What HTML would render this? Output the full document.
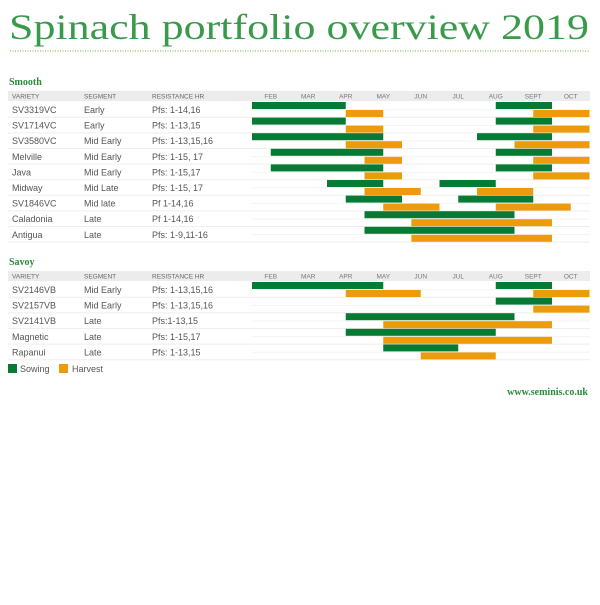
<!DOCTYPE html>
<html><head><style>body{margin:0;background:#fff}</style></head><body>
<svg width="600" height="600" xmlns="http://www.w3.org/2000/svg" font-family="Liberation Sans, sans-serif">
<text x="9" y="39" font-family="Liberation Serif, serif" font-size="36" fill="#3a9a4c" textLength="580" lengthAdjust="spacingAndGlyphs">Spinach portfolio overview 2019</text>
<line x1="10" y1="51" x2="590" y2="51" stroke="#8cc04a" stroke-width="1.2" stroke-dasharray="1,1.5"/>
<g id="c"></g>
</svg>
<script>
const g=document.getElementById('c');const NS='http://www.w3.org/2000/svg';
function el(t,a,txt){const e=document.createElementNS(NS,t);for(const k in a)e.setAttribute(k,a[k]);if(txt)e.textContent=txt;g.appendChild(e);return e;}
const X0=252,U=18.75,M=['FEB','MAR','APR','MAY','JUN','JUL','AUG','SEPT','OCT'];
function section(title,ty,rows){
 el('text',{x:9,y:ty,'font-family':'Liberation Serif, serif','font-weight':'bold','font-size':10,fill:'#2b8c3c'},title);
 const hy=ty+6;
 el('rect',{x:8,y:hy,width:582,height:10,fill:'#ececec'});
 el('text',{x:12,y:hy+7.5,'font-size':6.5,fill:'#666'},'VARIETY');
 el('text',{x:84,y:hy+7.5,'font-size':6.5,fill:'#666'},'SEGMENT');
 el('text',{x:152,y:hy+7.5,'font-size':6.5,fill:'#666'},'RESISTANCE HR');
 M.forEach((m,i)=>el('text',{x:X0+37.5*i+18.75,y:hy+7.5,'font-size':6.5,fill:'#777','text-anchor':'middle'},m));
 rows.forEach((r,i)=>{
  const top=hy+11+15.6*i;
  el('line',{x1:8,y1:top+15.3,x2:590,y2:top+15.3,stroke:'#eeeeee','stroke-width':1});
  el('line',{x1:X0,y1:top+7.8,x2:590,y2:top+7.8,stroke:'#f3f3f3','stroke-width':1});
  el('text',{x:12,y:top+11,'font-size':9,fill:'#555'},r[0]);
  el('text',{x:84,y:top+11,'font-size':9,fill:'#555'},r[1]);
  el('text',{x:152,y:top+11,'font-size':9,fill:'#555'},r[2]);
  r[3].forEach(s=>el('rect',{x:X0+s[0]*U,y:top,width:(s[1]-s[0])*U,height:7,fill:'#077a34'}));
  r[4].forEach(s=>el('rect',{x:X0+s[0]*U,y:top+8,width:(s[1]-s[0])*U,height:7,fill:'#ec9c0a'}));
 });
}
section('Smooth',85,[
['SV3319VC','Early','Pfs: 1-14,16',[[0,5],[13,16]],[[5,7],[15,18]]],
['SV1714VC','Early','Pfs: 1-13,15',[[0,5],[13,16]],[[5,7],[15,18]]],
['SV3580VC','Mid Early','Pfs: 1-13,15,16',[[0,7],[12,16]],[[5,8],[14,18]]],
['Melville','Mid Early','Pfs: 1-15, 17',[[1,7],[13,16]],[[6,8],[15,18]]],
['Java','Mid Early','Pfs: 1-15,17',[[1,7],[13,16]],[[6,8],[15,18]]],
['Midway','Mid Late','Pfs: 1-15, 17',[[4,7],[10,13]],[[6,9],[12,15]]],
['SV1846VC','Mid late','Pf 1-14,16',[[5,8],[11,15]],[[7,10],[13,17]]],
['Caladonia','Late','Pf 1-14,16',[[6,14]],[[8.5,16]]],
['Antigua','Late','Pfs: 1-9,11-16',[[6,14]],[[8.5,16]]]]);
section('Savoy',265,[
['SV2146VB','Mid Early','Pfs: 1-13,15,16',[[0,7],[13,16]],[[5,9],[15,18]]],
['SV2157VB','Mid Early','Pfs: 1-13,15,16',[[13,16]],[[15,18]]],
['SV2141VB','Late','Pfs:1-13,15',[[5,14]],[[7,16]]],
['Magnetic','Late','Pfs: 1-15,17',[[5,13]],[[7,16]]],
['Rapanui','Late','Pfs: 1-13,15',[[7,11]],[[9,13]]]]);
el('rect',{x:8,y:364,width:9,height:9,fill:'#077a34'});
el('text',{x:20,y:372,'font-size':9,fill:'#555'},'Sowing');
el('rect',{x:59,y:364,width:9,height:9,fill:'#ec9c0a'});
el('text',{x:72,y:372,'font-size':9,fill:'#555'},'Harvest');
el('text',{x:588,y:395,'font-family':'Liberation Serif, serif','font-weight':'bold','font-size':10,fill:'#2b8c3c','text-anchor':'end'},'www.seminis.co.uk');
</script>
</body></html>
